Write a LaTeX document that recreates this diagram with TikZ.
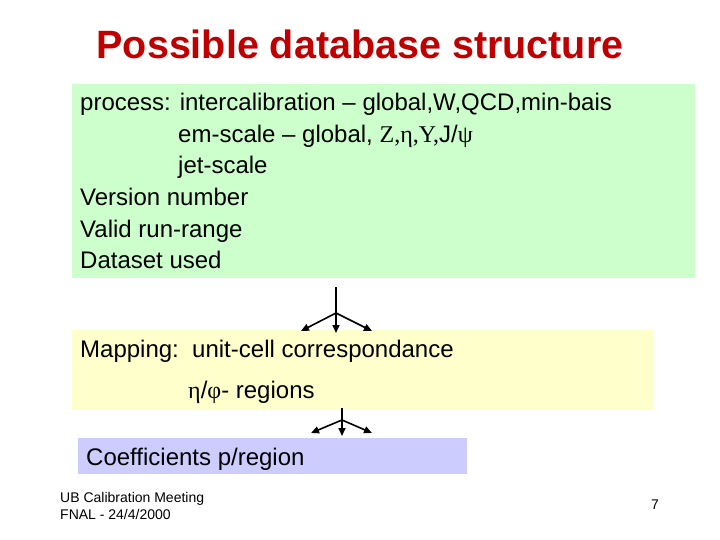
\documentclass[tikz,border=0pt]{standalone}
\usepackage{fontspec}
\setmainfont{Liberation Sans}
\newfontfamily\serifgr{Liberation Serif}
\usetikzlibrary{arrows.meta}
\definecolor{boxgreen}{RGB}{204,255,204}
\definecolor{boxyellow}{RGB}{255,255,204}
\definecolor{boxblue}{RGB}{204,204,255}
\definecolor{titlered}{RGB}{192,0,0}
\tikzset{
  txt/.style={anchor=base west, inner sep=0pt, font=\fontsize{24}{28}\selectfont},
  foot/.style={anchor=base west, inner sep=0pt, font=\fontsize{14}{16}\selectfont},
  conn/.style={line width=1.6pt, -{Triangle[length=8pt,width=7pt]}},
  stem/.style={line width=1.6pt},
}
\begin{document}
\begin{tikzpicture}[x=1pt,y=-1pt]
\useasboundingbox (0,0) rectangle (720,540);
% boxes
\fill[boxgreen] (72,84) rectangle (695,278);
\fill[boxyellow] (72,330) rectangle (654,410);
\fill[boxblue] (78,438) rectangle (467,474);
% title
\node[anchor=base, inner sep=0pt, text=titlered, font=\fontsize{39.5}{44}\selectfont\bfseries] (title) at (360,59) {Possible database structure};
% green box text
\node[txt] (l1) at (80,111) {process: intercalibration -- global,W,QCD,min-bais};
\node[txt] (l2) at (178,142.5) {em-scale -- global, {\serifgr Z,η,Υ,}J/{\serifgr ψ}};
\node[txt] (l3) at (178,174) {jet-scale};
\node[txt] (l4) at (80,205.5) {Version number};
\node[txt] (l5) at (80,237) {Valid run-range};
\node[txt] (l6) at (80,268.5) {Dataset used};
% yellow box text
\node[txt] (m1) at (80,357) {Mapping:\ \ unit-cell correspondance};
\node[txt] (m2) at (188,398.5) {{\serifgr η}/{\serifgr φ}- regions};
% blue box text
\node[txt] (c1) at (86,465) {Coefficients p/region};
% footer
\node[foot] (f1) at (60,502) {UB Calibration Meeting};
\node[foot] (f2) at (60,519) {FNAL - 24/4/2000};
\node[foot] (pg) at (651,509) {7};
% fork 1
\coordinate (a0) at (336,287);
\coordinate (a1) at (336,313);
\coordinate (aL) at (301,331);
\coordinate (aM) at (336,333);
\coordinate (aR) at (372,331);
\draw[stem] (a0) -- (a1);
\draw[conn] (a1) -- (aL);
\draw[conn] (a1) -- (aM);
\draw[conn] (a1) -- (aR);
% fork 2
\coordinate (b0) at (342,408);
\coordinate (b1) at (342,420);
\coordinate (bL) at (311,433);
\coordinate (bM) at (342,436);
\coordinate (bR) at (372,433);
\draw[stem] (b0) -- (b1);
\draw[conn] (b1) -- (bL);
\draw[conn] (b1) -- (bM);
\draw[conn] (b1) -- (bR);
\end{tikzpicture}
\end{document}
